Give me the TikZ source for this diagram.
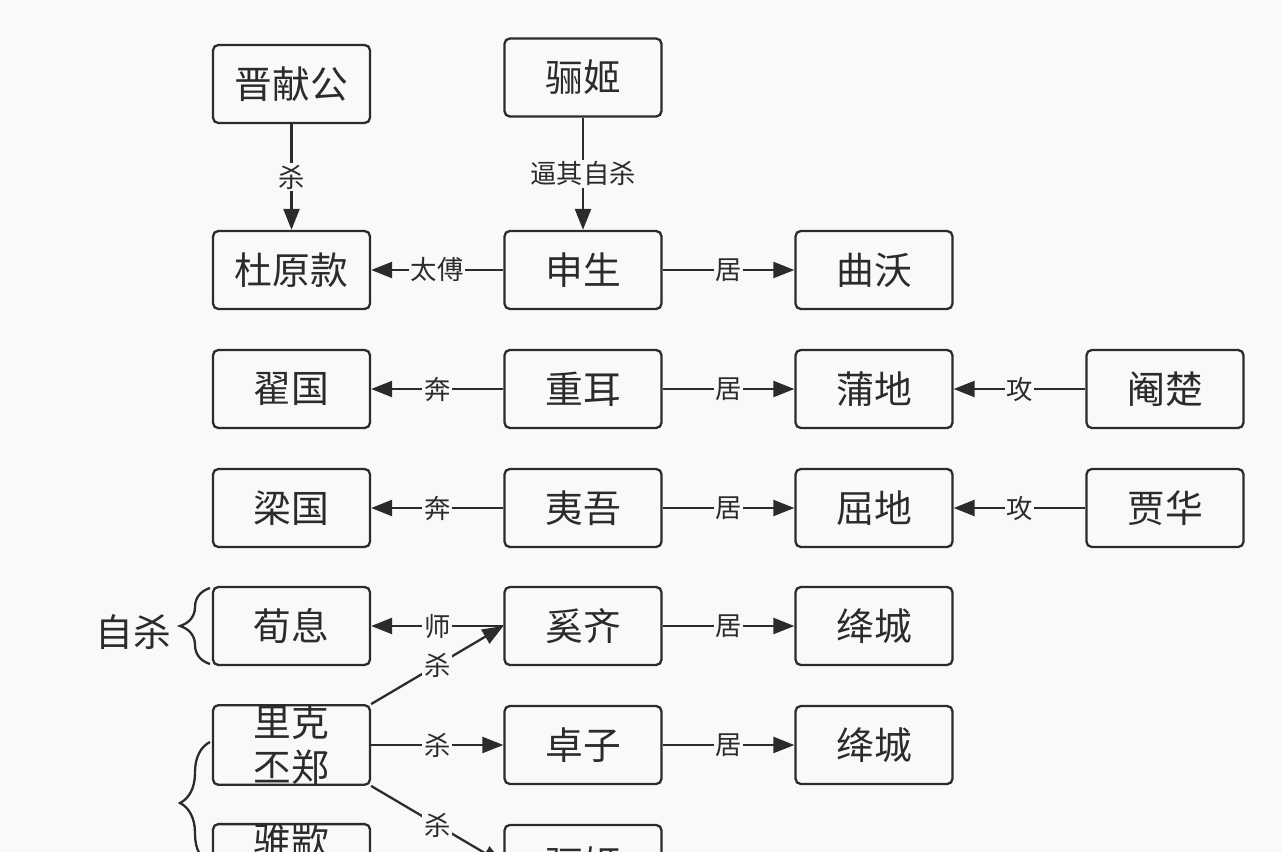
\documentclass[tikz,border=0pt]{standalone}
\usepackage{fontspec}
\setmainfont{Noto Sans CJK SC}
\usetikzlibrary{arrows.meta,decorations.pathreplacing}
\definecolor{bgcol}{HTML}{F9F9FA}
\definecolor{ink}{HTML}{2B2B2B}

\begin{document}
\begin{tikzpicture}[x=0.02cm, y=-0.02cm,
    box/.style={draw=ink, line width=1.3pt, rounded corners=3pt, minimum width=3.14cm,
      minimum height=1.56cm, inner sep=0pt, align=center, text=ink,
      font=\fontsize{21.5}{25.5}\selectfont},
    rel/.style={draw=ink, line width=1.3pt, -{Triangle[length=0.42cm,width=0.32cm]}},
    lbl/.style={fill=bgcol, inner sep=1pt, text=ink, font=\fontsize{15}{18}\selectfont},
    grp/.style={draw=ink, line width=1.3pt, decorate, decoration={brace, amplitude=0.6cm}}]
    \useasboundingbox (0,0) rectangle (1282,852);
    \fill[bgcol] (0,0) rectangle (1282,852);
    \clip (0,0) rectangle (1282,852);

    % draw nodes
    \node[box] (jxg) at (291.5,84) {晋献公};
    \node[box] (lj) at (583,77.5) {骊姬};
    \node[box] (dyk) at (291.5,270) {杜原款};
    \node[box] (ss) at (583,270) {申生};
    \node[box] (qw) at (874,270) {曲沃};
    \node[box] (dg) at (291.5,389) {翟国};
    \node[box] (ce) at (583,389) {重耳};
    \node[box] (pd) at (874,389) {蒲地};
    \node[box] (yc) at (1165,389) {阉楚};
    \node[box] (lg) at (291.5,508) {梁国};
    \node[box] (yw) at (583,508) {夷吾};
    \node[box] (qd) at (874,508) {屈地};
    \node[box] (jh) at (1165,508) {贾华};
    \node[box] (xx) at (291.5,626) {荀息};
    \node[box] (xq) at (583,626) {奚齐};
    \node[box] (jc1) at (874,626) {绛城};
    \node[box] (lk) at (291.5,745) {里克\\丕郑};
    \node[box] (zz) at (583,745) {卓子};
    \node[box] (jc2) at (874,745) {绛城};
    \node[box] (zc) at (291.5,864) {骓歂\\\phantom{骓歂}};
    \node[box] (lj2) at (583,864) {骊姬};
    \node[text=ink, font=\fontsize{21.5}{24.5}\selectfont] (zs) at (133,632) {自杀};

    % draw relations
    \draw[rel] (jxg) -- node[lbl] {杀} (dyk);
    \draw[rel] (lj) -- node[lbl] {逼其自杀} (ss);
    \draw[rel] (ss) -- node[lbl] {太傅} (dyk);
    \draw[rel] (ss) -- node[lbl] {居} (qw);
    \draw[rel] (ce) -- node[lbl] {奔} (dg);
    \draw[rel] (ce) -- node[lbl] {居} (pd);
    \draw[rel] (yc) -- node[lbl] {攻} (pd);
    \draw[rel] (yw) -- node[lbl] {奔} (lg);
    \draw[rel] (yw) -- node[lbl] {居} (qd);
    \draw[rel] (jh) -- node[lbl] {攻} (qd);
    \draw[rel] (xq) -- node[lbl] {师} (xx);
    \draw[rel] (xq) -- node[lbl] {居} (jc1);
    \draw[rel] (zz) -- node[lbl] {居} (jc2);
    \draw[rel] (lk.north east) -- node[lbl] {杀} (xq.west);
    \draw[rel] (lk) -- node[lbl] {杀} (zz);
    \draw[rel] (lk.south east) -- node[lbl] {杀} (lj2.west);

    % draw braces
    \draw[grp] (210,664) -- (210,588);
    \draw[grp] (210,864) -- (210,742);
\end{tikzpicture}
\end{document}
